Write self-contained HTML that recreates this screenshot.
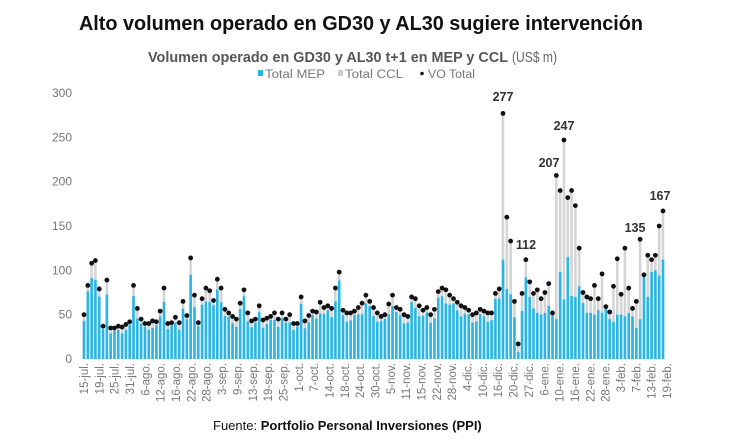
<!DOCTYPE html>
<html><head><meta charset="utf-8"><style>
html,body{margin:0;padding:0;background:#fff;width:730px;height:444px;overflow:hidden}
svg{display:block;font-family:"Liberation Sans",sans-serif}
</style></head><body>
<svg id="s" width="730" height="444" xmlns="http://www.w3.org/2000/svg">
<text x="79" y="30" font-size="20" font-weight="bold" fill="#111" textLength="564" lengthAdjust="spacingAndGlyphs">Alto volumen operado en GD30 y AL30 sugiere intervención</text>
<text x="148" y="62" font-size="14.5" font-weight="bold" fill="#555" textLength="360" lengthAdjust="spacingAndGlyphs">Volumen operado en GD30 y AL30 t+1 en MEP y CCL</text>
<text x="512" y="62" font-size="14.5" fill="#666" textLength="45" lengthAdjust="spacingAndGlyphs">(US$ m)</text>
<rect x="258" y="70" width="5" height="6" fill="#29b6e6"/>
<text x="265" y="78" font-size="11.5" fill="#777" textLength="60" lengthAdjust="spacingAndGlyphs">Total MEP</text>
<rect x="338" y="70" width="5" height="6" fill="#ccc"/>
<text x="345" y="78" font-size="11.5" fill="#777" textLength="58" lengthAdjust="spacingAndGlyphs">Total CCL</text>
<circle cx="422" cy="73.5" r="1.8" fill="#111"/>
<text x="428" y="78" font-size="11.5" fill="#777" textLength="47" lengthAdjust="spacingAndGlyphs">VO Total</text>
<g id="g"></g>
<text x="213" y="430" font-size="13" fill="#111">Fuente: <tspan font-weight="bold">Portfolio Personal Inversiones (PPI)</tspan></text>
</svg>
<script>
var A=[50,83,108,111,79,37,89,35,35,37,36,39,42,83,57,45,40,40,43,42,54,80,40,41,47,41,65,49,114,72,41,68,80,77,66,90,80,56,52,48,45,63,78,52,43,45,60,44,46,48,52,45,52,45,50,40,40,70,43,49,54,53,64,58,60,57,80,98];
var B=[55,52,52,54,58,63,72,65,58,52,48,50,62,72,58,56,50,48,70,68,60,55,58,50,56,76,80,78,72,68,64,60,58,55,50,52,56,54,52,52,74,79];
var C=[277,160,133,65,17,74,112,87,74,78,68,75,85,52,207,190,247,182,190,173,125,75,70,68,83,68,96,59,53,82,113,73,125,80,57,65,135,95,117,112,117,150,167];
var CM=[112,79,73,47,8,54,92,70,57,52,50,52,60,55,45,98,67,115,71,70,82,63,52,52,50,55,52,62,45,42,50,50,48,52,48,35,45,106,70,98,100,94,112,92];
var vo=A.concat(B,C),n=vo.length,g=document.getElementById('g'),h='';
var y0=359,k=266/300,x0=84,x1=663,dx=(x1-x0)/(n-1);
for(var t=0;t<=300;t+=50){h+='<text x="72" y="'+(y0-t*k+4)+'" font-size="12" fill="#777" text-anchor="end">'+t+'</text>';}
var pts='';
for(var i=0;i<n;i++){
 var v=vo[i],m;
 if(i>=A.length+B.length){m=CM[i-A.length-B.length]; if(m===undefined)m=v*0.6;} else m=v*(0.86+0.06*Math.sin(i*1.7));
 if(m>v)m=v;
 var x=x0+i*dx;
 h+='<rect x="'+(x-1.3)+'" y="'+(y0-v*k)+'" width="2.6" height="'+(v*k)+'" fill="#d4d4d4"/>';
 h+='<rect x="'+(x-1.3)+'" y="'+(y0-m*k)+'" width="2.6" height="'+(m*k)+'" fill="#29b6e6"/>';
 pts+='<circle cx="'+x+'" cy="'+(y0-v*k)+'" r="2.4" fill="#111"/>';
}
h+=pts;
var L=['15-jul.','19-jul.','25-jul.','31-jul.','6-ago.','12-ago.','16-ago.','22-ago.','28-ago.','3-sep.','9-sep.','13-sep.','19-sep.','25-sep.','1-oct.','7-oct.','14-oct.','18-oct.','24-oct.','30-oct.','5-nov.','11-nov.','15-nov.','22-nov.','28-nov.','4-dic.','10-dic.','16-dic.','20-dic.','27-dic.','6-ene.','10-ene.','16-ene.','22-ene.','28-ene.','3-feb.','7-feb.','13-feb.','19-feb.'];
for(var j=0;j<L.length;j++){var lx=84+j*(667-84)/38;h+='<text transform="translate('+(lx+4)+',363) rotate(-90)" font-size="11.5" fill="#777" text-anchor="end">'+L[j]+'</text>';}
var V=[[503,101,'277'],[526,249,'112'],[564,130,'247'],[549,167,'207'],[635,232,'135'],[660,200,'167']];
V.forEach(function(a){h+='<text x="'+a[0]+'" y="'+a[1]+'" font-size="12.5" font-weight="bold" fill="#333" text-anchor="middle">'+a[2]+'</text>';});
g.innerHTML=h;
</script>
</body></html>
